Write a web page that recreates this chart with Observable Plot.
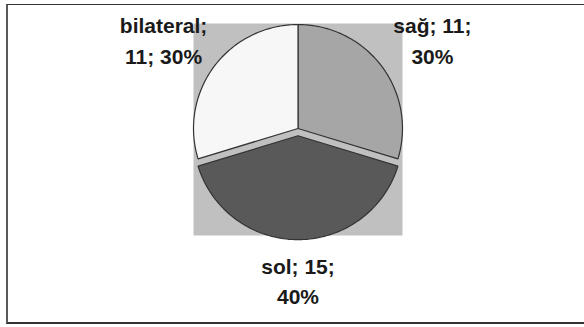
<!DOCTYPE html>
<html><head><meta charset="utf-8">
<script src="https://cdn.jsdelivr.net/npm/d3@7"></script>
<script src="https://cdn.jsdelivr.net/npm/@observablehq/plot@0.6"></script>
<style>
html,body{margin:0;padding:0;background:#fff;width:584px;height:327px;overflow:hidden;}
#wrap{position:relative;width:584px;height:327px;}
#wrap svg{position:absolute;left:0;top:0;}
#border{position:absolute;left:6px;top:4px;width:600px;height:317px;border-left:2px solid #5a5a5a;border-top:1.5px solid #333;border-bottom:2px solid #333;pointer-events:none;}
</style></head><body>
<div id="wrap"></div>
<script>
// Data
const categories = ["sağ", "sol", "bilateral"];
const values = [11, 15, 11];
const percents = [30, 40, 30];
const labels = ["sağ; 11;\n30%", "sol; 15;\n40%", "bilateral;\n11; 30%"];
const colors = ["#a6a6a6", "#595959", "#f7f7f7"];
const explodedCategory = "sol";

// Geometry derived from data with d3.pie (clockwise from 12 o'clock)
const arcs = d3.pie().sort(null).value((d, i) => values[i])(categories);
const EXPLODE = 0.07;
const slices = arcs.map((a, i) => {
  const mid = (a.startAngle + a.endAngle) / 2;
  const off = categories[i] === explodedCategory ? EXPLODE : 0;
  const cx = off * Math.sin(mid), cy = off * Math.cos(mid);
  const pts = [{x: cx, y: cy}];
  const n = 90;
  for (let k = 0; k <= n; k++) {
    const ang = a.startAngle + (a.endAngle - a.startAngle) * k / n;
    pts.push({x: cx + Math.sin(ang), y: cy + Math.cos(ang)});
  }
  pts.push({x: cx, y: cy});
  return {name: categories[i], color: colors[i], pts, mid};
});
const labelData = slices.map((s, i) => ({
  label: labels[i],
  x: 1.6 * Math.sin(s.mid),
  y: 1.45 * Math.cos(s.mid)
}));

const marks = [
  Plot.frame({fill: "#c0c0c0", stroke: "none"}),
  ...slices.map(s => Plot.line(s.pts, {x: "x", y: "y", fill: s.color, stroke: "#333", strokeWidth: 1.2, strokeLinejoin: "round"})),
  Plot.text(labelData, {x: "x", y: "y", text: "label", fontWeight: "bold", fontSize: 21, lineHeight: 1.45, fill: "#1a1a1a"})
];

const chart = Plot.plot({
  width: 584, height: 327,
  marginLeft: 193, marginRight: 182, marginTop: 23, marginBottom: 92,
  x: {domain: [-1, 1], axis: null},
  y: {domain: [-1.03, 1.01], axis: null},
  style: {background: "transparent", fontFamily: "'Liberation Sans', Arial, sans-serif", overflow: "visible"},
  marks
});
const wrap = document.getElementById("wrap");
wrap.appendChild(chart);
const b = document.createElement("div");
b.id = "border";
wrap.appendChild(b);
</script>
</body></html>
